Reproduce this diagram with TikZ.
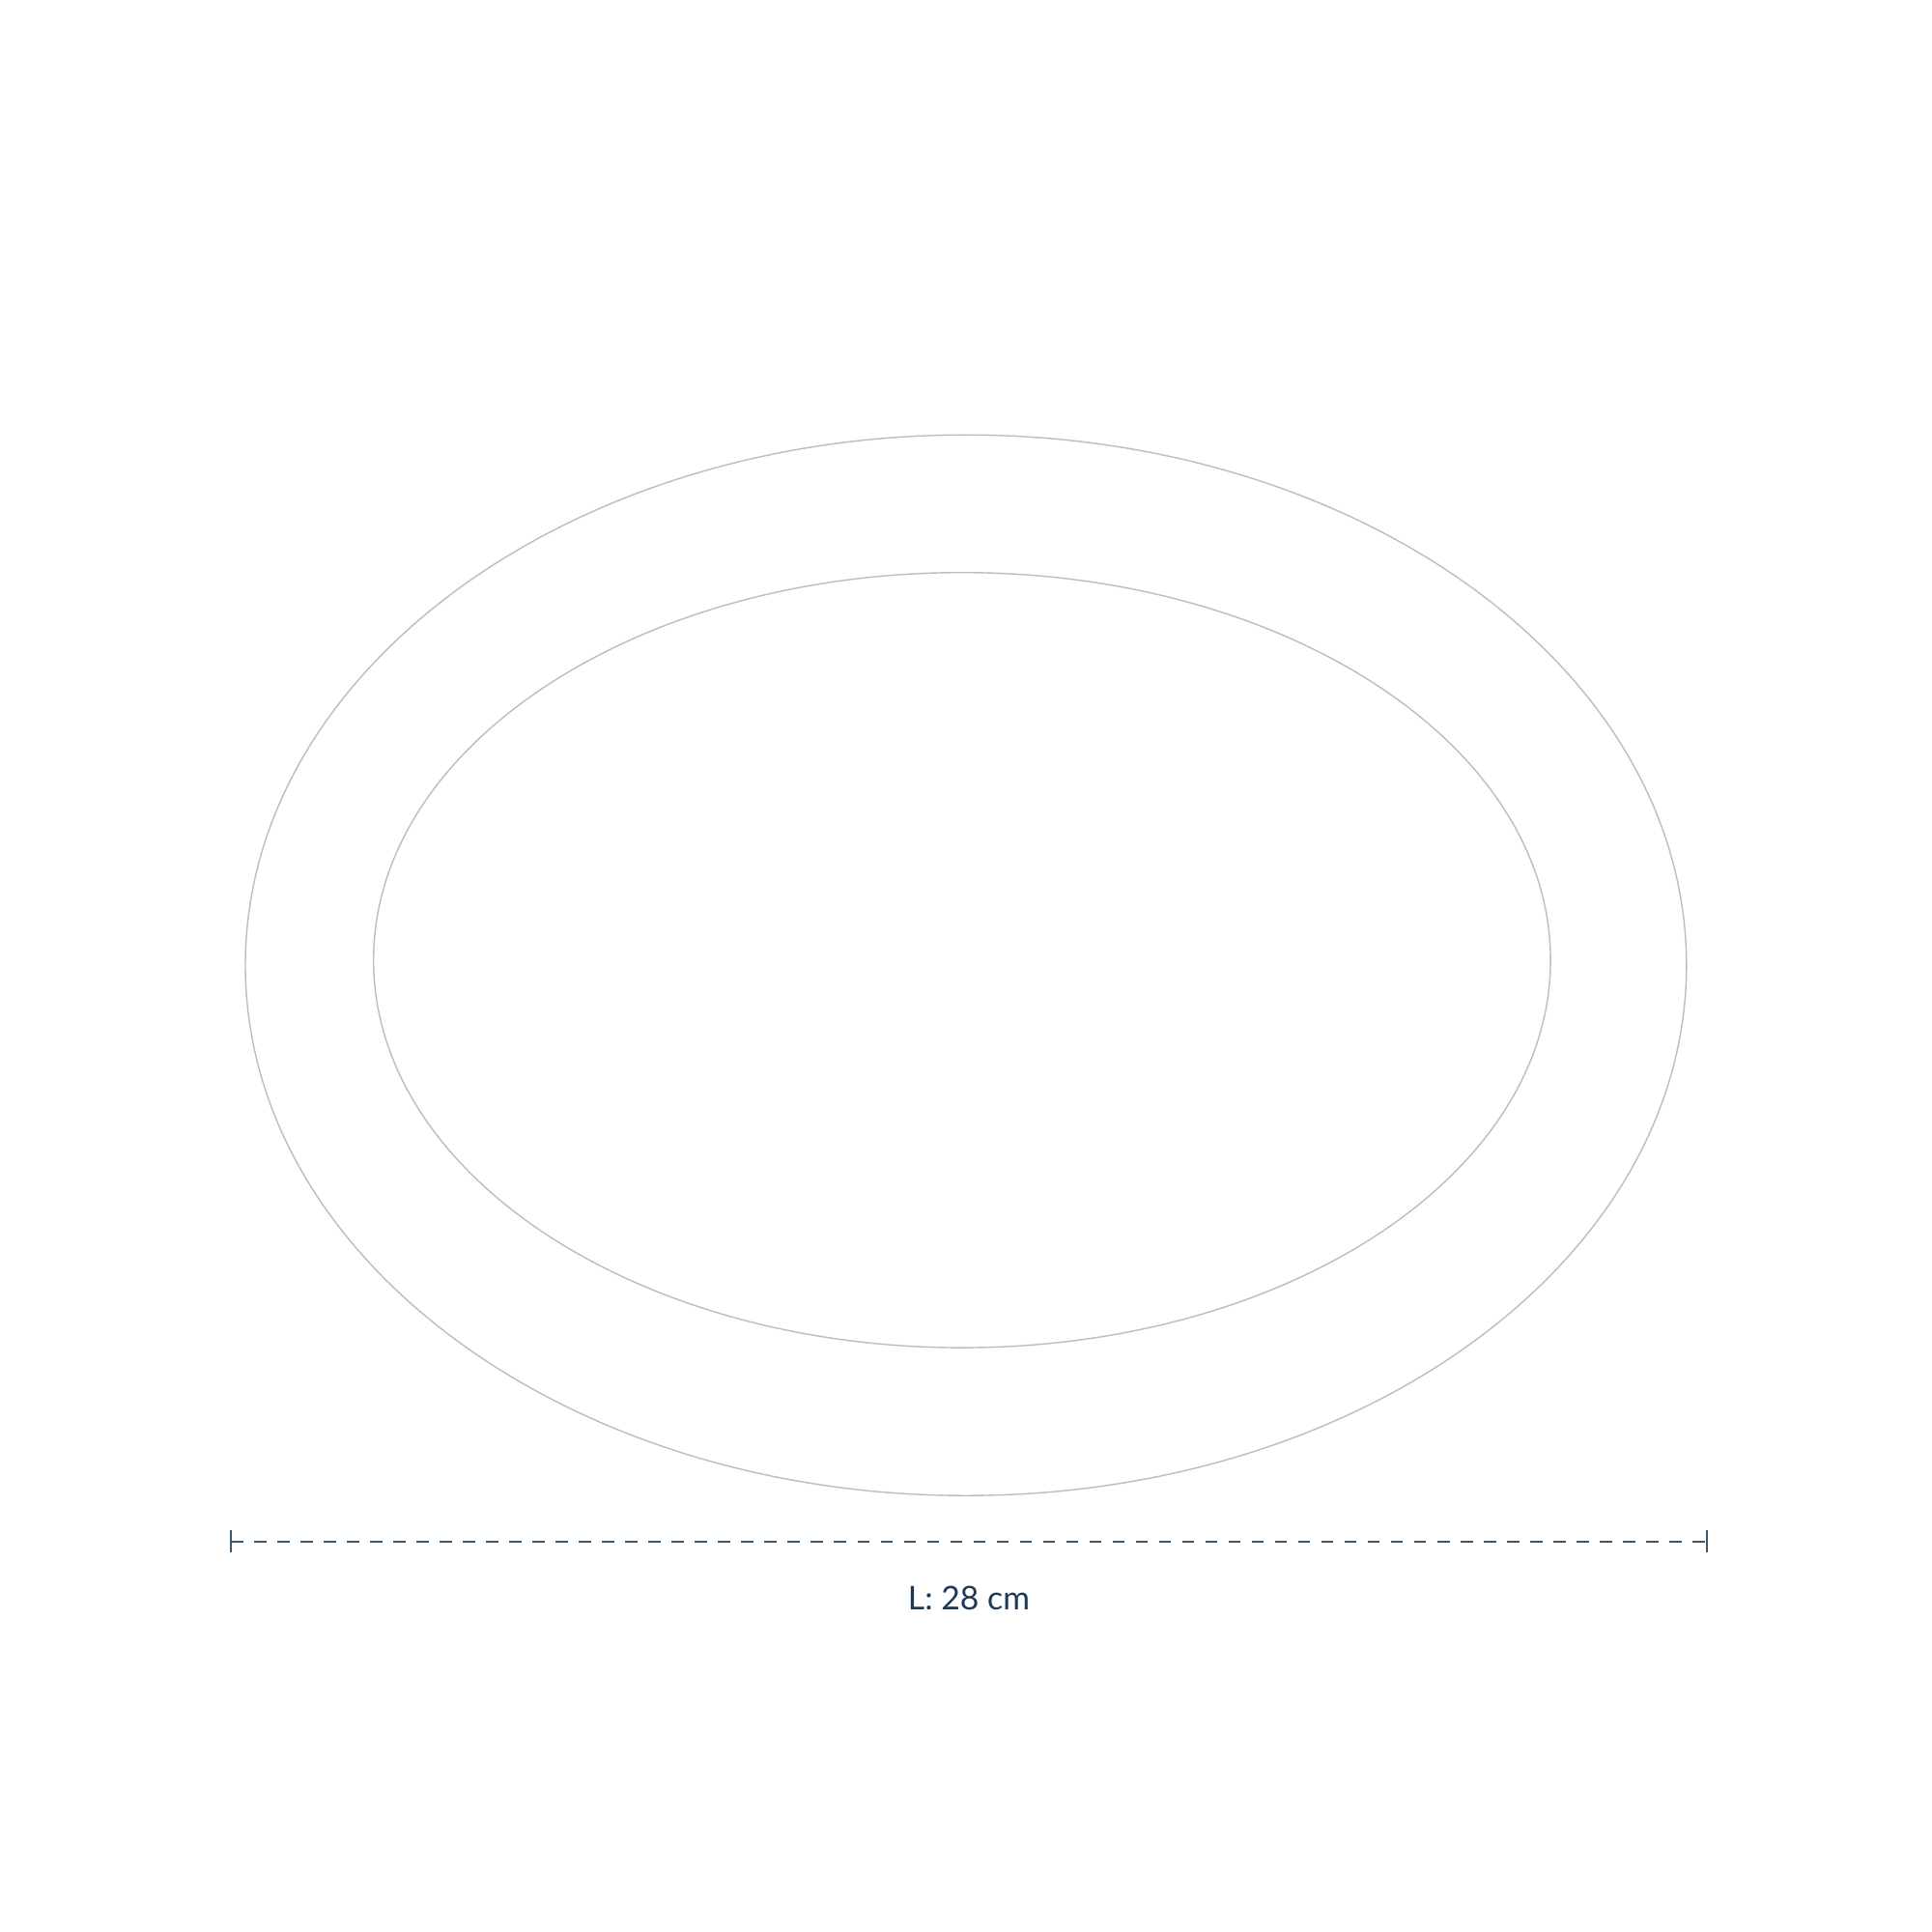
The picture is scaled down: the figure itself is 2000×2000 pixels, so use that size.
\documentclass[tikz,border=0pt]{standalone}
\usepackage{fontspec}
\setmainfont{Lato}
\definecolor{rimgray}{HTML}{BDBDBD}
\definecolor{dimline}{HTML}{3A5770}
\definecolor{dimtext}{HTML}{1B3A57}
\begin{document}
\begin{tikzpicture}[x=0.01cm,y=-0.01cm,
  rim/.style={draw=rimgray,line width=0.4pt},
  dimdash/.style={draw=dimline,line width=0.5pt,dash pattern=on 3.56pt off 3.27pt},
  dimtick/.style={draw=dimline,line width=0.6pt},
  dimlabel/.style={text=dimtext,font=\fontsize{9.6pt}{11pt}\selectfont,inner sep=0pt}]
\useasboundingbox[fill=white] (0,0) rectangle (2000,2000);
% plate outer rim and inner well
\draw[rim] (999.9,999.2) ellipse [x radius=745.9, y radius=549];
\draw[rim] (995.9,993.9) ellipse [x radius=609.2, y radius=401.2];
% dimension line
\coordinate (dl) at (239,1595.7);
\coordinate (dr) at (1767,1595.7);
\draw[dimdash] (dl) -- (dr);
\draw[dimtick] ([yshift=0.115cm]dl) -- ([yshift=-0.115cm]dl);
\draw[dimtick] ([yshift=0.115cm]dr) -- ([yshift=-0.115cm]dr);
\node[dimlabel,anchor=base] (lab) at (1003,1666.7) {L: 28 cm};
\end{tikzpicture}
\end{document}
